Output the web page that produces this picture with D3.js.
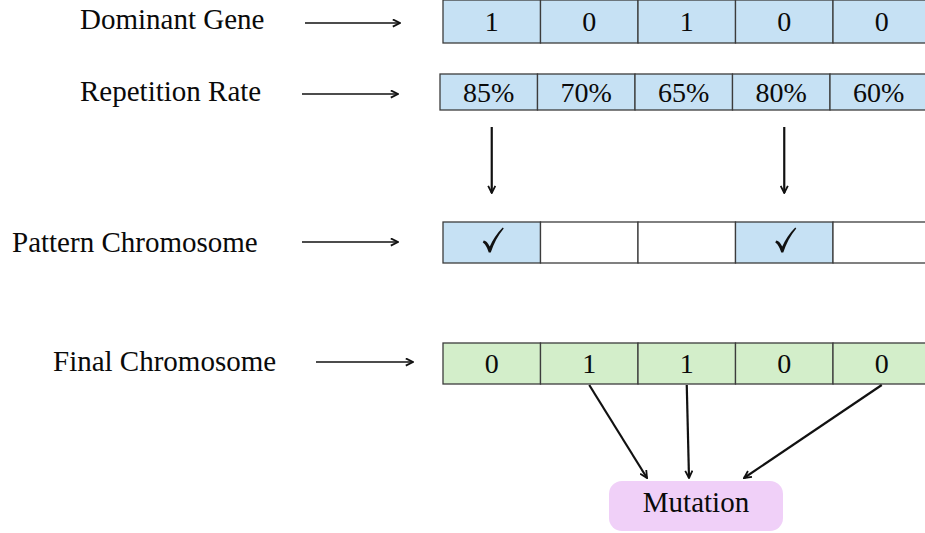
<!DOCTYPE html>
<html>
<head>
<meta charset="utf-8">
<script src="https://cdn.jsdelivr.net/npm/d3@7"></script>
<style>
  body { margin: 0; background: #fff; }
  text { font-family: "Liberation Serif", "Times New Roman", serif; fill: #0a0a0a; }
</style>
</head>
<body>
<div id="chart"></div>
<script>
// data
var rowLabels = ["Dominant Gene", "Repetition Rate", "Pattern Chromosome", "Final Chromosome"];
var dominantGene = [1, 0, 1, 0, 0];
var repetitionRate = [85, 70, 65, 80, 60];
var patternSelected = [true, false, false, true, false];
var finalChromosome = [0, 1, 1, 0, 0];
var mutatedGenes = [1, 2, 4];   // cells of the final chromosome sent to mutation

var width = 925, height = 533;

var svg = d3.select("#chart").append("svg")
  .attr("width", width)
  .attr("height", height);

var defs = svg.append("defs");
defs.append("marker")
  .attr("id", "head")
  .attr("viewBox", "0 0 10 10")
  .attr("refX", 9).attr("refY", 5)
  .attr("markerWidth", 9).attr("markerHeight", 9)
  .attr("markerUnits", "userSpaceOnUse")
  .attr("orient", "auto")
  .append("path")
  .attr("d", "M1,1 L9,5 L1,9")
  .attr("fill", "none")
  .attr("stroke", "#111")
  .attr("stroke-width", 2);

var idx = d3.range(5);
var x = d3.scaleBand().domain(idx).range([443, 443 + 5 * 97.5]);

// row layout: label x, arrow start/end, row top, row height, x offset of cells
var rows = [
  {label: rowLabels[0], lx: 80, ly: 29, ax0: 305, ax1: 400, ay: 23, top: 0, h: 43, dx: 0},
  {label: rowLabels[1], lx: 80, ly: 101, ax0: 302, ax1: 398, ay: 94, top: 74, h: 36, dx: -3},
  {label: rowLabels[2], lx: 12, ly: 252, ax0: 302, ax1: 398, ay: 242, top: 222, h: 41, dx: 0},
  {label: rowLabels[3], lx: 53, ly: 371, ax0: 316, ax1: 413, ay: 362, top: 343, h: 41, dx: 0}
];

var blue = "#c6e1f4", green = "#d3eeca", purple = "#f0d0f8", border = "#3c3c3c";

// labels and arrows on the left
rows.forEach(function(r) {
  svg.append("text")
    .attr("x", r.lx).attr("y", r.ly)
    .style("font-size", "29px")
    .text(r.label);
  svg.append("line")
    .attr("x1", r.ax0).attr("x2", r.ax1)
    .attr("y1", r.ay).attr("y2", r.ay)
    .attr("stroke", "#111").attr("stroke-width", 1.7)
    .attr("marker-end", "url(#head)");
});

function drawRow(r, values, fillFn, textFn) {
  var g = svg.append("g").attr("transform", "translate(" + r.dx + "," + r.top + ")");
  var cell = g.selectAll("g").data(values).enter().append("g")
    .attr("transform", function(d, i) { return "translate(" + x(i) + ",0)"; });
  cell.append("rect")
    .attr("width", x.bandwidth()).attr("height", r.h)
    .attr("fill", fillFn)
    .attr("stroke", border).attr("stroke-width", 1.3);
  if (textFn) {
    cell.append("text")
      .attr("x", x.bandwidth() / 2).attr("y", r.h / 2)
      .attr("dy", "0.35em")
      .attr("text-anchor", "middle")
      .style("font-size", "28px")
      .text(textFn);
  }
  return cell;
}

drawRow(rows[0], dominantGene, function() { return blue; }, function(d) { return d; });
drawRow(rows[1], repetitionRate, function() { return blue; }, function(d) { return d + "%"; });
var pat = drawRow(rows[2], patternSelected, function(d) { return d ? blue : "#fff"; }, null);
pat.filter(function(d) { return d; }).append("path")
  .attr("transform", "translate(" + (x.bandwidth() / 2) + "," + (rows[2].h / 2) + ")")
  .attr("d", "M-9,0 C-7,1 -5,4 -3,10 L-1,10 C2,1 6,-7 12,-14 L11,-15 C5,-9 1,-3 -2,4 C-4,0 -6,-2 -8,-2 Z")
  .attr("fill", "#111");
drawRow(rows[3], finalChromosome, function() { return green; }, function(d) { return d; });

// vertical arrows from repetition rate to pattern chromosome
idx.filter(function(i) { return patternSelected[i]; }).forEach(function(i) {
  var cx = x(i) + x.bandwidth() / 2;
  svg.append("line")
    .attr("x1", cx).attr("x2", cx)
    .attr("y1", 127).attr("y2", 193)
    .attr("stroke", "#111").attr("stroke-width", 2.2)
    .attr("marker-end", "url(#head)");
});

// mutation box
var mut = {x: 609, y: 481, w: 174, h: 50};
svg.append("rect")
  .attr("x", mut.x).attr("y", mut.y)
  .attr("width", mut.w).attr("height", mut.h)
  .attr("rx", 13)
  .attr("fill", purple);
svg.append("text")
  .attr("x", mut.x + mut.w / 2).attr("y", 512)
  .attr("text-anchor", "middle")
  .style("font-size", "29px")
  .text("Mutation");

var targets = {1: 647, 2: 689, 4: 744};
mutatedGenes.forEach(function(i) {
  svg.append("line")
    .attr("x1", x(i) + x.bandwidth() / 2).attr("y1", 385)
    .attr("x2", targets[i]).attr("y2", 478)
    .attr("stroke", "#111").attr("stroke-width", 2.2)
    .attr("marker-end", "url(#head)");
});
</script>
</body>
</html>
